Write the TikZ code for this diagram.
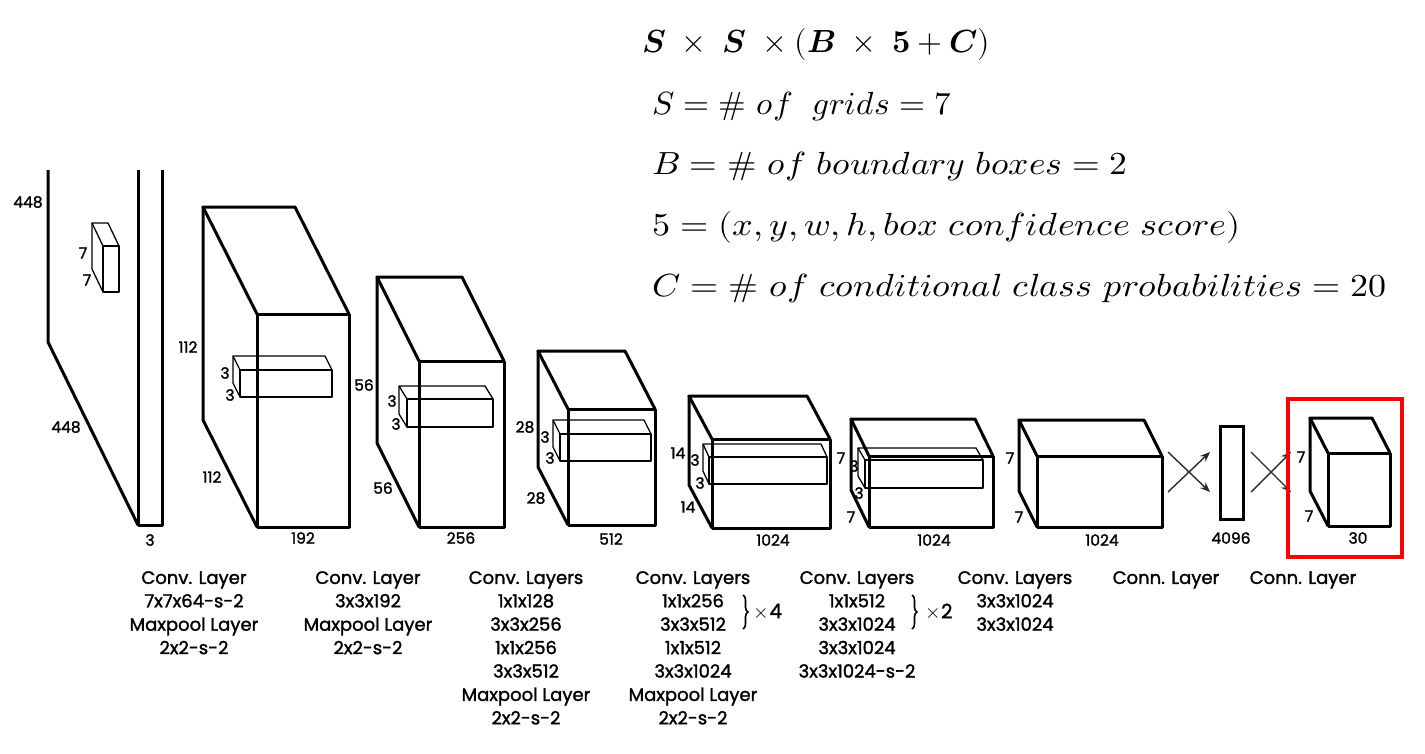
\documentclass[tikz,border=0pt]{standalone}
\usepackage{fontspec}
\usepackage{unicode-math}
\newfontfamily\lab{Poppins}[FakeBold=1.6]
\usetikzlibrary{arrows.meta,decorations.pathreplacing}
\definecolor{arrowgray}{HTML}{2a2a2a}
\newcommand{\cuboid}[7][thickedge]{%
  \draw[#1] (#2,#3) rectangle ++(#4,#5);
  \draw[#1] (#2,#3) -- ++(-#6,-#7) -- ++(#4,0) -- ++(#6,#7);
  \draw[#1] (#2,#3) ++(-#6,-#7) -- ++(0,#5) -- ++(#6,#7);
}
\begin{document}
\begin{tikzpicture}[x=1pt,y=-1pt,
  thickedge/.style={line width=3pt,line join=round},
  thinedge/.style={line width=1.3pt,line join=round},
  dim/.style={font=\lab\fontsize{15.5}{18}\selectfont,inner sep=0},
  desc/.style={font=\lab\fontsize{18}{23.4}\selectfont,align=center,anchor=north,inner sep=0},
  eq/.style={font=\fontsize{32}{38}\selectfont,anchor=base west,inner sep=0},
  conn/.style={line width=1.4pt,draw=arrowgray,-{Stealth[length=10pt,width=8pt]}},
  bracestyle/.style={decorate,decoration={brace,amplitude=5pt},line width=1.6pt},
  redbox/.style={draw=red,line width=3.5pt}]
\useasboundingbox (0,0) rectangle (1425,753);

% ---- equations
\node[eq] (e1) at (642,52) {$\symbfit{S}\;\times\;\symbfit{S}\;\times(\symbfit{B}\;\times\;\symbf{5}+\symbfit{C})$};
\node[eq] (e2) at (652,114) {\scalebox{1.04}[1]{$S=\#\ of\ \ grids=7$}};
\node[eq] (e3) at (652,174) {\scalebox{1.11}[1]{$B=\#\ of\ boundary\ boxes=2$}};
\node[eq] (e4) at (652,235) {\scalebox{1.13}[1]{$5=(x,y,w,h,box\ confidence\ score)$}};
\node[eq] (e5) at (652,296) {\scalebox{1.125}[1]{$C=\#\ of\ conditional\ class\ probabilities=20$}};

% ---- layer 1 (input)
\draw[thickedge] (48,170) -- (48,342) -- (138,525);
\draw[thickedge] (138,170) -- (138,525) -- (162,525) -- (162,170);
\cuboid[thinedge]{103}{246}{16}{46}{11}{23}
\node[dim] (d1a) at (28,202) {448};
\node[dim] (d1b) at (83,253) {7};
\node[dim] (d1c) at (87,280) {7};
\node[dim] (d1d) at (66,427) {448};
\node[dim] (d1e) at (150,540) {3};

% ---- layer 2
\cuboid{257}{314}{92}{213}{54}{107}
\cuboid[thinedge]{240}{370}{92}{27}{7}{14}
\node[dim] (d2a) at (188,347) {112};
\node[dim] (d2b) at (225,373) {3};
\node[dim] (d2c) at (230,395) {3};
\node[dim] (d2d) at (212,477) {112};
\node[dim] (d2e) at (303,538) {192};

% ---- layer 3
\cuboid{419}{361}{85}{166}{42}{84}
\cuboid[thinedge]{407}{399}{86}{28}{8}{13}
\node[dim] (d3a) at (364,385) {56};
\node[dim] (d3b) at (392,401) {3};
\node[dim] (d3c) at (396,424) {3};
\node[dim] (d3d) at (383,488) {56};
\node[dim] (d3e) at (461,538) {256};

% ---- layer 4
\cuboid{568}{409}{87}{116}{30}{58}
\cuboid[thinedge]{560}{434}{91}{27}{7}{14}
\node[dim] (d4a) at (525,427) {28};
\node[dim] (d4b) at (545,437) {3};
\node[dim] (d4c) at (550,458) {3};
\node[dim] (d4d) at (536,498) {28};
\node[dim] (d4e) at (611,539) {512};

% ---- layer 5
\cuboid{712}{439}{118}{89}{23}{43}
\cuboid[thinedge]{709}{457}{118}{27}{6}{13}
\node[dim] (d5a) at (678,453) {14};
\node[dim] (d5b) at (695,460) {3};
\node[dim] (d5c) at (700,483) {3};
\node[dim] (d5d) at (688,507) {14};
\node[dim] (d5e) at (773,540) {1024};

% ---- layer 6
\cuboid{869}{456}{124}{71}{18}{37}
\cuboid[thinedge]{865}{460}{118}{28}{7}{12}
\node[dim] (d6a) at (841,458) {7};
\node[dim] (d6b) at (854,466) {3};
\node[dim] (d6c) at (859,493) {3};
\node[dim] (d6d) at (851,517) {7};
\node[dim] (d6e) at (934,540) {1024};

% ---- layer 7
\cuboid{1037}{456}{125}{71}{18}{36}
\node[dim] (d7a) at (1010,458) {7};
\node[dim] (d7b) at (1019,517) {7};
\node[dim] (d7e) at (1102,540) {1024};

% ---- fully connected
\coordinate (a1s) at (1168,452);
\coordinate (a1e) at (1210,492);
\coordinate (a2s) at (1168,492);
\coordinate (a2e) at (1210,452);
\draw[conn] (a1s) -- (a1e);
\draw[conn] (a2s) -- (a2e);
\node[draw,line width=3pt,minimum width=23pt,minimum height=93pt,inner sep=0] (fc) at (1231.5,472.5) {};
\node[dim] (dfc) at (1231,538) {4096};
\coordinate (b1s) at (1251,452);
\coordinate (b1e) at (1291,492);
\coordinate (b2s) at (1251,492);
\coordinate (b2e) at (1291,452);
\draw[conn] (b1s) -- (b1e);
\draw[conn] (b2s) -- (b2e);

% ---- output
\cuboid{1328}{453}{62}{73}{18}{35}
\node[dim] (d8a) at (1301,457) {7};
\node[dim] (d8b) at (1309,516) {7};
\node[dim] (d8e) at (1358,538) {30};
\draw[redbox] (1288,399) rectangle (1402,557);

% ---- descriptions
\node[desc] (c1) at (194,571) {Conv. Layer\\7x7x64-s-2\\Maxpool Layer\\2x2-s-2};
\node[desc] (c2) at (368,571) {Conv. Layer\\3x3x192\\Maxpool Layer\\2x2-s-2};
\node[desc] (c3) at (526,571) {Conv. Layers\\1x1x128\\3x3x256\\1x1x256\\3x3x512\\Maxpool Layer\\2x2-s-2};
\node[desc] (c4) at (693,571) {Conv. Layers\\1x1x256\\3x3x512\\1x1x512\\3x3x1024\\Maxpool Layer\\2x2-s-2};
\node[desc] (c5) at (857,571) {Conv. Layers\\1x1x512\\3x3x1024\\3x3x1024\\3x3x1024-s-2};
\node[desc] (c6) at (1015,571) {Conv. Layers\\3x3x1024\\3x3x1024};
\node[desc] (c7) at (1166,571) {Conn. Layer};
\node[desc] (c8) at (1303,571) {Conn. Layer};
\draw[bracestyle] (743,595) -- (743,629);
\node[dim,font=\fontsize{20}{20}\selectfont] (x4) at (768,611) {$\times$\lab 4};
\draw[bracestyle] (912,595) -- (912,629);
\node[dim,font=\fontsize{20}{20}\selectfont] (x2) at (939,611) {$\times$\lab 2};
\end{tikzpicture}
\end{document}
